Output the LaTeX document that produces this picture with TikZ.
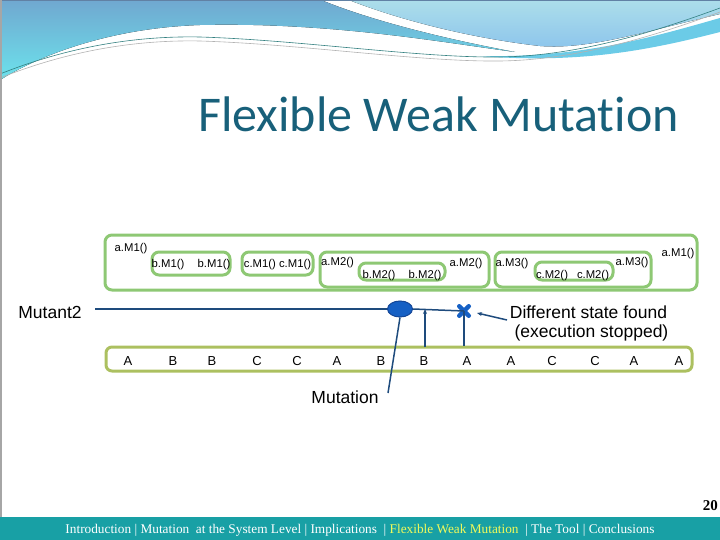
\documentclass[tikz,border=0pt]{standalone}
\usepackage{fontspec}
\setmainfont{Liberation Sans}
\newfontfamily\titlefont[Ligatures={NoCommon,NoRequired,NoContextual}]{Carlito}
\newfontfamily\footfont{Liberation Serif}
\usetikzlibrary{arrows.meta,shapes.geometric,shapes.misc}
\definecolor{boxgreen}{RGB}{142,200,116}
\definecolor{olive}{RGB}{172,192,96}
\definecolor{lineblue}{RGB}{30,75,125}
\definecolor{blobfill}{RGB}{22,96,196}
\definecolor{blobdark}{RGB}{20,70,150}
\definecolor{titleblue}{RGB}{24,96,122}
\definecolor{footteal}{RGB}{24,160,165}
\definecolor{footyellow}{RGB}{240,250,90}
\definecolor{wavetop}{RGB}{112,168,208}
\definecolor{wavebot}{RGB}{108,226,236}
\definecolor{waverA}{RGB}{172,222,234}
\definecolor{waverB}{RGB}{140,196,236}
\definecolor{wavecyan}{RGB}{70,190,225}
\begin{document}
\begin{tikzpicture}[x=1pt,y=-1pt,
  gbox/.style={draw=boxgreen, line width=3pt, rounded corners=7pt, inner sep=0pt},
  lbl/.style={font=\fontsize{11.3}{13}\selectfont, inner sep=0pt, anchor=base},
  let/.style={font=\fontsize{13}{15}\selectfont, inner sep=0pt, anchor=base},
  big/.style={font=\fontsize{17.5}{21}\selectfont, inner sep=0pt, anchor=base},
  mline/.style={draw=lineblue, line width=1.5pt}]
\useasboundingbox (0,0) rectangle (720,540);
% background waves
\fill[top color=wavetop, bottom color=wavebot] (0,0) -- (321,0)
  .. controls (370,20) and (440,38) .. (515,52)
  .. controls (440,42) and (330,22) .. (200,25)
  .. controls (110,28) and (40,55) .. (0,80) -- cycle;
\fill[top color=waverA, bottom color=waverB] (349,0) -- (720,0) -- (720,14)
  .. controls (650,30) and (590,50) .. (540,46)
  .. controls (470,38) and (400,20) .. (349,0) -- cycle;
\fill[wavecyan!80] (480,56) .. controls (580,58) and (650,38) .. (720,18) -- (720,32)
  .. controls (650,50) and (580,64) .. (480,56) -- cycle;
\draw[teal!60!gray, line width=0.6pt] (0,74) .. controls (80,42) and (150,36) .. (200,37)
  .. controls (300,40) and (420,58) .. (500,57) .. controls (580,56) and (660,30) .. (720,8);
\draw[gray!60, line width=0.6pt] (0,78) .. controls (80,46) and (150,40) .. (200,41)
  .. controls (300,44) and (420,62) .. (500,61) .. controls (580,60) and (660,34) .. (720,12);
\draw[lineblue!70, line width=1pt] (0,0.5) -- (720,0.5);
\draw[gray!70, line width=1.5pt] (0.75,0) -- (0.75,517);
% title
\node[font=\titlefont\fontsize{50}{60}\selectfont, text=titleblue, inner sep=0pt, anchor=base] (title) at (438.5,132) {Flexible Weak Mutation};
% call boxes
\node[gbox, minimum width=592pt, minimum height=55pt] (outer) at (401,262.5) {};
\node[gbox, minimum width=78pt, minimum height=23pt] (bm1) at (191,263.5) {};
\node[gbox, minimum width=71pt, minimum height=23pt] (cm1) at (277.5,263.5) {};
\node[gbox, minimum width=169pt, minimum height=35pt] (am2) at (404.5,269.5) {};
\node[gbox, minimum width=86pt, minimum height=17pt] (bm2) at (402,271.5) {};
\node[gbox, minimum width=156pt, minimum height=35pt] (am3) at (573,269.5) {};
\node[gbox, minimum width=78pt, minimum height=18pt] (cm2) at (574,271) {};
\node[lbl] (t1) at (131,251.5) {a.M1()};
\node[lbl] (t2) at (168,267) {b.M1()};
\node[lbl] (t3) at (214,267) {b.M1()};
\node[lbl] (t4) at (277.5,267) {c.M1() c.M1()};
\node[lbl] (t5) at (337.5,265.5) {a.M2()};
\node[lbl] (t6) at (379,278.5) {b.M2()};
\node[lbl] (t7) at (425,278.5) {b.M2()};
\node[lbl] (t8) at (466,266) {a.M2()};
\node[lbl] (t9) at (512,266) {a.M3()};
\node[lbl] (t10) at (552,278) {c.M2()};
\node[lbl] (t11) at (593,278) {c.M2()};
\node[lbl] (t12) at (632,265) {a.M3()};
\node[lbl] (t13) at (678,256.5) {a.M1()};
% mutant line
\node[big] (mut) at (50,318) {Mutant2};
\coordinate (mstart) at (95,309);
\node[ellipse, fill=blobfill, draw=blobdark, line width=1pt, minimum width=25pt, minimum height=16pt, inner sep=0pt] (blob) at (400,309) {};
\node[cross out, draw=blobfill, line width=4.5pt, line cap=round, minimum size=5pt, inner sep=0pt] (xm) at (464,311) {};
\draw[mline] (mstart) -- (blob.west);
\draw[mline] (blob.east) -- (xm.center);
% trace band
\node[draw=olive, line width=3pt, rounded corners=6pt, minimum width=586pt, minimum height=24pt, inner sep=0pt] (band) at (399,359) {};
\foreach \x/\l [count=\i] in {128/A,173/B,212/B,257/C,297/C,337/A,381/B,424/B,467/A,511/A,552/C,595/C,634/A,679/A}
  \node[let] (s\i) at (\x,365) {\l};
\coordinate (upbot) at (425,347);
\coordinate (uptop) at (425,309);
\draw[mline, -{Stealth[length=5pt,width=4pt]}] (upbot) -- (uptop);
\draw[mline] (xm.center) -- (xm.center |- band.north);
% labels
\node[big] (diff1) at (588.5,318) {Different state found};
\node[big] (diff2) at (591.5,337) {(execution stopped)};
\coordinate (dstart) at (507,320);
\coordinate (dend) at (477,313);
\draw[mline, -{Stealth[length=5pt,width=4pt]}] (dstart) -- (dend);
\node[big] (mutn) at (345,403) {Mutation};
\coordinate (mutend) at (388,393);
\draw[mline] (mutend) -- (blob.south);
% footer
\fill[footteal] (0,517) rectangle (720,540);
\node[font=\footfont\fontsize{13.3}{15}\selectfont, text=white, inner sep=0pt, anchor=base] (foot) at (360,533)
  {Introduction | Mutation \ at the System Level | Implications \ | \textcolor{footyellow}{Flexible Weak Mutation} \ | The Tool | Conclusions};
\node[font=\footfont\bfseries\fontsize{15}{17}\selectfont, inner sep=0pt, anchor=base east] (pg) at (718,510) {20};
\end{tikzpicture}
\end{document}
